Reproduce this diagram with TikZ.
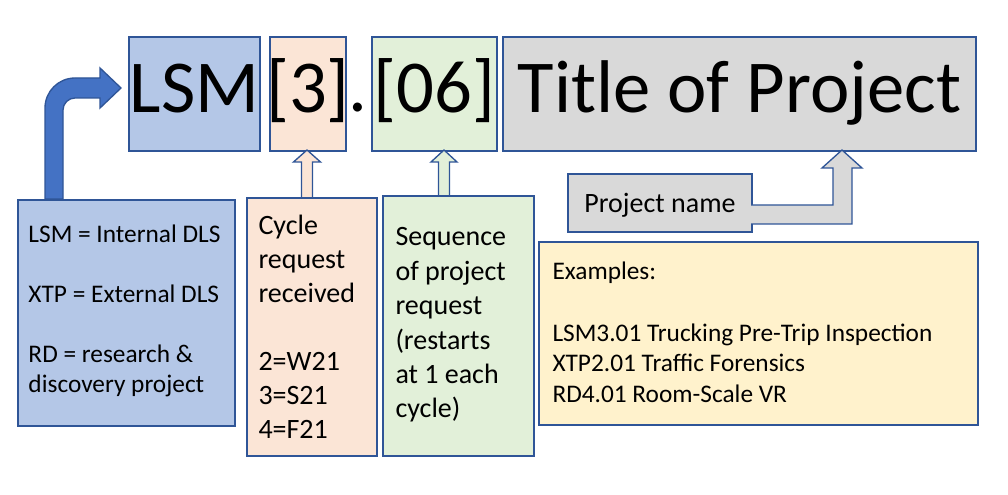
\documentclass[tikz,border=0pt]{standalone}
\usepackage{fontspec}
\setmainfont{Carlito}
\definecolor{bordblue}{RGB}{47,85,151}
\definecolor{arrblue}{RGB}{68,114,196}
\definecolor{lsmblue}{RGB}{180,199,231}
\definecolor{cycpeach}{RGB}{251,229,214}
\definecolor{seqgreen}{RGB}{226,240,217}
\definecolor{titlegray}{RGB}{217,217,217}
\definecolor{exyellow}{RGB}{255,242,204}
\newcommand{\codetext}[1]{\makebox[0pt]{#1}}

\tikzset{every picture/.style={line width=0.75pt}}
\tikzset{
  codebox/.style={draw=bordblue, line width=1.5pt, anchor=north west, inner sep=0pt, minimum height=85.5pt, font=\fontsize{56}{60}\selectfont, text height=40pt, text depth=11.5pt},
  notebox/.style={draw=bordblue, line width=1.5pt, anchor=north west, inner sep=0pt},
  notetext/.style={anchor=base west, inner sep=0pt, align=left, execute at begin node={\spaceskip=0pt\xspaceskip=0pt\relax}},
  blockarrow/.style={draw=bordblue, line width=1pt, line join=miter},
}

\begin{document}
\begin{tikzpicture}[x=0.75pt,y=0.75pt,yscale=-1,xscale=1]
\path[use as bounding box] (0,0) rectangle (1008,495);

%Shape: Rectangle
\draw (128,36) node [codebox, fill=lsmblue, minimum width=98.25pt] (lsm) {\codetext{LSM}};
%Shape: Rectangle
\draw (269,36) node [codebox, fill=cycpeach, minimum width=57pt] (num3) {\codetext{[3]}};
% Text Node
\draw (358,112) node [anchor=base][inner sep=0pt, font=\fontsize{56}{60}\selectfont] (dot) {.};
%Shape: Rectangle
\draw (371,36) node [codebox, fill=seqgreen, minimum width=93.75pt] (num06) {\codetext{[06]}};
%Shape: Rectangle
\draw (502,36) node [codebox, fill=titlegray, minimum width=354.75pt] (title) {\codetext{Title of Project}};

%Shape: Rectangle
\draw (17,199) node [notebox, fill=lsmblue, minimum width=162.75pt, minimum height=169.5pt] (lsmkey) {};
%Shape: Rectangle
\draw (246,197) node [notebox, fill=cycpeach, minimum width=97.5pt, minimum height=193.5pt] (cycbox) {};
%Shape: Rectangle
\draw (382,195) node [notebox, fill=seqgreen, minimum width=113.25pt, minimum height=195pt] (seqbox) {};
%Shape: Rectangle
\draw (567,173) node [notebox, fill=titlegray, minimum width=138pt, minimum height=43.5pt, font=\fontsize{21}{25.5}\selectfont, text height=16pt, text depth=1pt] (projname) {Project name};
%Shape: Rectangle
\draw (538,241) node [notebox, fill=exyellow, minimum width=329.25pt, minimum height=137.25pt] (examples) {};

% Text Node
\draw (28,243) node [notetext, text width=165pt, font=\fontsize{19}{22.5}\selectfont] (lsmkeytext) {LSM = Internal DLS\\[22.5pt]XTP = External DLS\\[22.5pt]RD = research \&\\discovery project};
% Text Node
\draw (258,235) node [notetext, text width=90pt, font=\fontsize{21}{25.5}\selectfont] (cyctext) {Cycle\\request\\received\\[25.5pt]2=W21\\3=S21\\4=F21};
% Text Node
\draw (395,246) node [notetext, text width=105pt, font=\fontsize{21}{25.8}\selectfont] (seqtext) {Sequence\\of project\\request\\(restarts\\at 1 each\\cycle)};
% Text Node
\draw (552,280) node [notetext, text width=310pt, font=\fontsize{19}{23}\selectfont] (extext) {Examples:\\[23pt]LSM3.01 Trucking Pre-Trip Inspection\\XTP2.01 Traffic Forensics\\RD4.01 Room-Scale VR};

%Bent Arrow
\draw [blockarrow, fill=arrblue] (45,199) -- (45,108) .. controls (45,91.4) and (58.4,78) .. (75,78) -- (100,78) -- (100,68) -- (121,88) -- (100,108) -- (100,98) -- (75,98) .. controls (68.4,98) and (63,103.4) .. (63,110) -- (63,199) -- cycle ;
%Up Arrow
\draw [blockarrow, fill=cycpeach] (301.5,197) -- (301.5,162) -- (293.5,162) -- (307,150) -- (320.5,162) -- (312.5,162) -- (312.5,197) ;
%Up Arrow
\draw [blockarrow, fill=seqgreen] (438.5,195) -- (438.5,162) -- (431,162) -- (444,150) -- (457,162) -- (449.5,162) -- (449.5,195) ;
%Bent Up Arrow
\draw [blockarrow, fill=titlegray] (751,205) -- (833,205) -- (833,168) -- (822,168) -- (842,150) -- (862,168) -- (852,168) -- (852,224) -- (751,224) ;

\end{tikzpicture}
\end{document}
